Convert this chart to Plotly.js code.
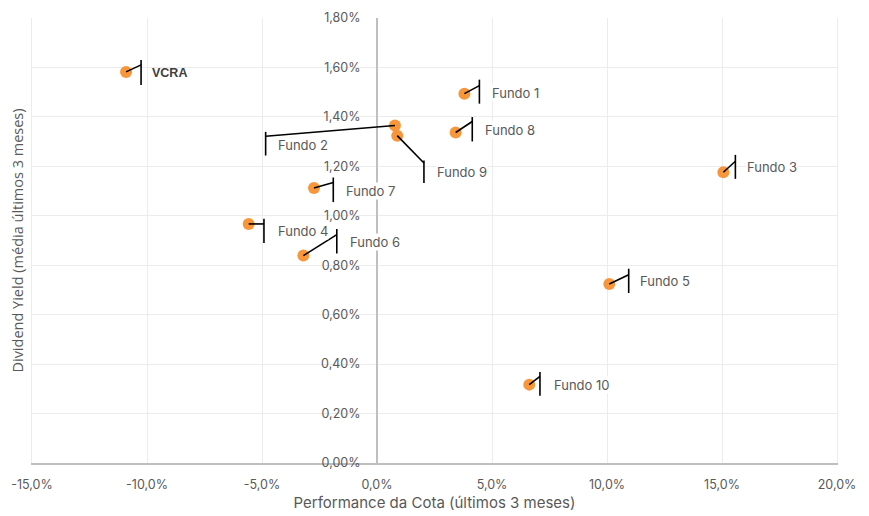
<!DOCTYPE html>
<html>
<head>
<meta charset="utf-8">
<script src="https://cdn.plot.ly/plotly-3.0.1.min.js"></script>
<style>html,body{margin:0;padding:0;background:#fff;}#chart{width:869px;height:516px;}</style>
</head>
<body>
<div id="chart"></div>
<script>
// ---- data (fractions) ----
const names = ["VCRA","Fundo 1","Fundo 8","Fundo 3","Fundo 2","Fundo 9","Fundo 7","Fundo 4","Fundo 6","Fundo 5","Fundo 10"];
const performance = [-0.1091, 0.0380, 0.0342, 0.1506, 0.0078, 0.0088, -0.0274, -0.0558, -0.0320, 0.1010, 0.0662];
const dividendYield = [0.01582, 0.01494, 0.01337, 0.01176, 0.01365, 0.01324, 0.01112, 0.00967, 0.00839, 0.00724, 0.00317];
const xTickVals = [-0.15, -0.10, -0.05, 0, 0.05, 0.10, 0.15, 0.20];
const xTickText = ["-15,0%","-10,0%","-5,0%","0,0%","5,0%","10,0%","15,0%","20,0%"];
const yTickVals = [0, 0.002, 0.004, 0.006, 0.008, 0.010, 0.012, 0.014, 0.016, 0.018];
const yTickText = ["0,00%","0,20%","0,40%","0,60%","0,80%","1,00%","1,20%","1,40%","1,60%","1,80%"];

// ---- callout layout (pixel offsets from each point; screen y down) ----
// [barDx, barTop, barBottom, leaderEndDy, labelDx, labelDy]
const callout = {
  "VCRA":    [15, -12, 13, -7, 25, 1],
  "Fundo 1": [15, -14, 10, -8, 27, -1],
  "Fundo 8": [16.6, -15.4, 9, -11, 28.6, -2],
  "Fundo 3": [12, -17.4, 6.6, -11, 22.7, -5],
  "Fundo 2": [-129.3, 6.3, 30, 10.7, -118.3, 19],
  "Fundo 9": [26.7, 24.7, 47.3, 27.3, 38.4, 36.3],
  "Fundo 7": [19.3, -10.6, 14, -5.6, 31.3, 2.7],
  "Fundo 4": [15.3, -5.3, 19, 0, 28, 6.7],
  "Fundo 6": [33.4, -26.7, -2, -21, 45.7, -13.3],
  "Fundo 5": [19.4, -15.3, 9, -9.3, 30, -2.6],
  "Fundo 10":[10.7, -12.7, 11, -8.3, 23.4, 0]
};

const FONT = "Inter, 'Open Sans', sans-serif";
const GRAY = "#595959";
const shapes = [];
const annotations = [];
names.forEach((n, i) => {
  const c = callout[n];
  const px = performance[i], py = dividendYield[i];
  shapes.push({type:"line", xref:"x", yref:"y", xsizemode:"pixel", ysizemode:"pixel",
    xanchor:px, yanchor:py, x0:0, y0:0, x1:c[0], y1:-c[3],
    line:{color:"#000", width:1.6}, layer:"above"});
  shapes.push({type:"line", xref:"x", yref:"y", xsizemode:"pixel", ysizemode:"pixel",
    xanchor:px, yanchor:py, x0:c[0], y0:-c[1], x1:c[0], y1:-c[2],
    line:{color:"#000", width:1.6}, layer:"above"});
  const bold = (n === "VCRA");
  annotations.push({x:px, y:py, xref:"x", yref:"y", showarrow:false,
    text: bold ? "<b>"+n+"</b>" : n,
    xanchor:"left", yanchor:"middle", xshift:c[4], yshift:-c[5],
    bgcolor: bold ? "rgba(0,0,0,0)" : "#ffffff", borderpad:0,
    font:{family: bold ? "'Liberation Sans', Arial, sans-serif" : FONT, size: bold ? 12.5 : 13, color: bold ? "#404040" : GRAY}});
});

const traces = [{
  type:"scatter", mode:"markers", x:performance, y:dividendYield, text:names,
  marker:{color:"#F7963A", size:12}, hoverinfo:"text", cliponaxis:false
}, {
  type:"scatter", mode:"markers", x:[], y:[], yaxis:"y2", showlegend:false, hoverinfo:"skip"
}];

const layout = {
  width:869, height:516,
  margin:{l:32, r:32, t:18, b:53},
  paper_bgcolor:"#fff", plot_bgcolor:"#fff",
  showlegend:false,
  font:{family:FONT, color:GRAY},
  xaxis:{range:[-0.15,0.20], tickvals:xTickVals, ticktext:xTickText,
    showgrid:true, gridcolor:"#ececec", gridwidth:1,
    zeroline:true, zerolinecolor:"#bfbfbf", zerolinewidth:1.5,
    showline:true, linecolor:"#bfbfbf", linewidth:1.5, mirror:false,
    ticks:"outside", ticklen:9, tickcolor:"rgba(0,0,0,0)",
    tickfont:{size:12.5, color:GRAY},
    title:{text:"Performance da Cota (últimos 3 meses)", font:{size:15, color:GRAY}, standoff:7},
    automargin:false, fixedrange:true},
  yaxis:{range:[0,0.018], tickvals:yTickVals, showticklabels:false,
    showgrid:true, gridcolor:"#ececec", gridwidth:1, zeroline:false,
    showline:true, linecolor:"#ececec", linewidth:1, mirror:true,
    title:{text:"Dividend Yield (média últimos 3 meses)", font:{size:14.5, color:GRAY, family:"'Open Sans', sans-serif"}, standoff:3},
    automargin:false, fixedrange:true},
  yaxis2:{range:[0,0.018], overlaying:"y", anchor:"free", position:15/35, side:"left",
    tickvals:yTickVals, ticktext:yTickText, showgrid:false, zeroline:false, showline:false,
    ticks:"outside", ticklen:14, tickcolor:"rgba(0,0,0,0)",
    tickfont:{size:12.5, color:GRAY}, automargin:false, fixedrange:true},
  shapes:shapes,
  annotations:annotations
};

Plotly.newPlot("chart", traces, layout, {displayModeBar:false, staticPlot:true});
</script>
</body>
</html>
